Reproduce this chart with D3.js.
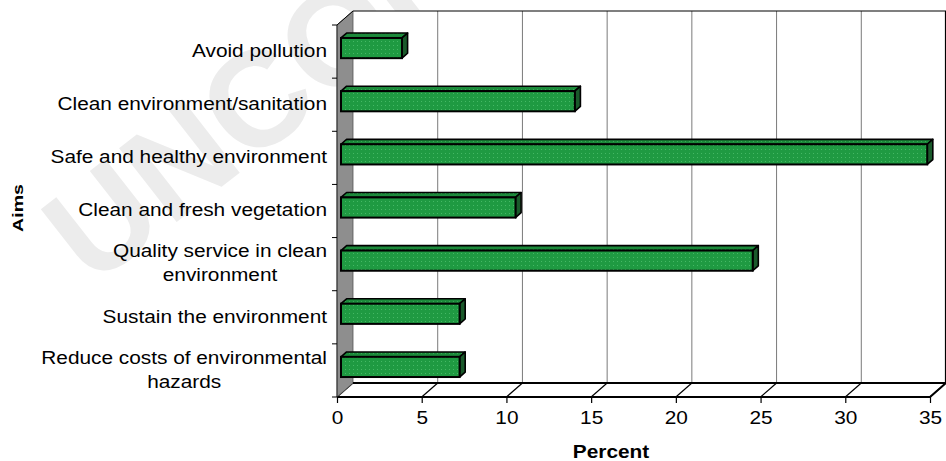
<!DOCTYPE html>
<html>
<head>
<meta charset="utf-8">
<script src="https://cdn.jsdelivr.net/npm/d3@7"></script>
<style>
  html, body { margin: 0; padding: 0; background: #fff; }
  svg { display: block; font-family: "Liberation Sans", Arial, Helvetica, sans-serif; }
</style>
</head>
<body>
<svg id="chart" width="946" height="461"></svg>
<script>
// Aims of respondents, percent
const categories = [
  "Avoid pollution",
  "Clean environment/sanitation",
  "Safe and healthy environment",
  "Clean and fresh vegetation",
  "Quality service in clean environment",
  "Sustain the environment",
  "Reduce costs of environmental hazards"
];
const categoryLines = [
  ["Avoid pollution"],
  ["Clean environment/sanitation"],
  ["Safe and healthy environment"],
  ["Clean and fresh vegetation"],
  ["Quality service in clean", "environment"],
  ["Sustain the environment"],
  ["Reduce costs of environmental", "hazards"]
];
const percentValues = [3.6, 13.8, 34.6, 10.3, 24.3, 7.0, 7.0];
const xTicks = [0, 5, 10, 15, 20, 25, 30, 35];

const svg = d3.select("#chart");

// 3D depth of the plot box
const DX = 16, DY = -14;
// bar sits between these depth fractions
const F1 = 0.25, F2 = 0.6;
const SX = 1.19; // horizontal stretch of the lettering

const x = d3.scaleLinear().domain([0, 35]).range([337, 930]);
const y = d3.scaleBand().domain(categories).range([25, 397]).paddingInner(0).paddingOuter(0);

// faint watermark behind the chart
svg.append("text")
  .attr("transform", "translate(92,288) rotate(-38)")
  .attr("font-size", 136)
  .attr("font-weight", "bold")
  .attr("fill", "#ececec")
  .text("UNCORRECTED");

// patterns for the dotted bar faces
const defs = svg.append("defs");
function dotPattern(id, base, dot) {
  const p = defs.append("pattern").attr("id", id)
    .attr("patternUnits", "userSpaceOnUse").attr("width", 4).attr("height", 4);
  p.append("rect").attr("width", 4).attr("height", 4).attr("fill", base);
  p.append("rect").attr("x", 1).attr("y", 1).attr("width", 1).attr("height", 1).attr("fill", dot);
}
dotPattern("frontDots", "#1f9a42", "#45b865");
dotPattern("topDots", "#1c8a3b", "#3aa857");

const x0 = x(0), x1 = x(35);
const yTop = y.range()[0], yBot = y.range()[1];

// back wall
svg.append("rect")
  .attr("x", x0 + DX).attr("y", yTop + DY)
  .attr("width", x1 - x0).attr("height", yBot - yTop)
  .attr("fill", "#fff");

// floor
svg.append("polygon")
  .attr("points", [[x0, yBot], [x0 + DX, yBot + DY], [x1 + DX, yBot + DY], [x1, yBot]].join(" "))
  .attr("fill", "#fff");

// gridlines on the back wall
svg.append("g").selectAll("line").data(xTicks.filter(d => d > 0 && d < 35)).join("line")
  .attr("x1", d => x(d) + DX).attr("x2", d => x(d) + DX)
  .attr("y1", yTop + DY).attr("y2", yBot + DY)
  .attr("stroke", "#7a7a7a").attr("stroke-width", 1);

// floor diagonals at each tick
svg.append("g").selectAll("line").data(xTicks).join("line")
  .attr("x1", d => x(d)).attr("y1", yBot)
  .attr("x2", d => x(d) + DX).attr("y2", yBot + DY)
  .attr("stroke", "#000").attr("stroke-width", 1.2);

// left side wall
svg.append("polygon")
  .attr("points", [[x0, yTop], [x0 + DX, yTop + DY], [x0 + DX, yBot + DY], [x0, yBot]].join(" "))
  .attr("fill", "#8e8e8e").attr("stroke", "#555").attr("stroke-width", 0.8);

// back wall border
svg.append("path")
  .attr("d", `M${x0 + DX},${yTop + DY}H${x1 + DX - 0.5}V${yBot + DY}`)
  .attr("fill", "none").attr("stroke", "#000").attr("stroke-width", 1.2);
svg.append("line")
  .attr("x1", x0 + DX).attr("x2", x1 + DX).attr("y1", yBot + DY).attr("y2", yBot + DY)
  .attr("stroke", "#000").attr("stroke-width", 2);
svg.append("line")
  .attr("x1", x0).attr("x2", x0 + DX).attr("y1", yTop).attr("y2", yTop + DY)
  .attr("stroke", "#000").attr("stroke-width", 1);

// bars
const bh = y.bandwidth() * 0.38;
const dBx = (F2 - F1) * DX, dBy = (F2 - F1) * DY;
const bars = svg.append("g").selectAll("g").data(categories.map((c, i) => ({ c, v: percentValues[i] }))).join("g");
bars.each(function (d) {
  const g = d3.select(this);
  const L = x(0) + F1 * DX, R = x(d.v) + F1 * DX;
  const T = y(d.c) + (y.bandwidth() - bh) / 2 + F1 * DY, B = T + bh;
  g.append("polygon")
    .attr("points", [[L, T], [L + dBx, T + dBy], [R + dBx, T + dBy], [R, T]].join(" "))
    .attr("fill", "url(#topDots)").attr("stroke", "#000").attr("stroke-width", 1.6).attr("stroke-linejoin", "round");
  g.append("polygon")
    .attr("points", [[R, T], [R + dBx, T + dBy], [R + dBx, B + dBy], [R, B]].join(" "))
    .attr("fill", "#1a5a2b").attr("stroke", "#000").attr("stroke-width", 1.6).attr("stroke-linejoin", "round");
  g.append("rect")
    .attr("x", L).attr("y", T).attr("width", R - L).attr("height", bh)
    .attr("fill", "url(#frontDots)").attr("stroke", "#000").attr("stroke-width", 2);
});

// front floor edge and right floor edge
svg.append("line")
  .attr("x1", x0).attr("x2", x1).attr("y1", yBot).attr("y2", yBot)
  .attr("stroke", "#000").attr("stroke-width", 2);
svg.append("line")
  .attr("x1", x1).attr("y1", yBot).attr("x2", x1 + DX).attr("y2", yBot + DY)
  .attr("stroke", "#000").attr("stroke-width", 2);
svg.append("line")
  .attr("x1", x0).attr("x2", x0).attr("y1", yTop).attr("y2", yBot)
  .attr("stroke", "#333").attr("stroke-width", 1);

// value axis
const xAxis = svg.append("g").attr("transform", `translate(0,${yBot})`)
  .call(d3.axisBottom(x).tickValues(xTicks).tickSize(6).tickFormat(d3.format("d")));
xAxis.select(".domain").remove();
xAxis.selectAll(".tick line").attr("stroke", "#000").attr("stroke-width", 1.2);
xAxis.selectAll(".tick text")
  .attr("font-size", 17.5).attr("fill", "#000").attr("font-family", null)
  .attr("y", 0).attr("dy", null)
  .attr("transform", `translate(0,27) scale(${SX},1)`);

// category ticks on the front edge of the side wall
const bounds = categories.map(c => y(c)).concat([yBot]);
svg.append("g").selectAll("line").data(bounds).join("line")
  .attr("x1", x0 - 5).attr("x2", x0).attr("y1", d => d).attr("y2", d => d)
  .attr("stroke", "#000").attr("stroke-width", 1);

// category labels, wrapped lines centred on each other
const lab = svg.append("g").selectAll("g").data(categories).join("g")
  .attr("transform", c => `translate(327,${y(c) + y.bandwidth() / 2 - 1}) scale(${SX},1)`);
lab.each(function (c, i) {
  const g = d3.select(this);
  const lines = categoryLines[i];
  const lh = 24;
  const t = g.append("text").attr("font-size", 17.5).attr("fill", "#000");
  const first = t.append("tspan").text(lines[0]);
  const w = first.node().getComputedTextLength();
  t.attr("text-anchor", "middle");
  t.selectAll("tspan").remove();
  lines.forEach((ln, k) => {
    t.append("tspan")
      .attr("x", -w / 2)
      .attr("y", 6.3 + (k - (lines.length - 1) / 2) * lh)
      .text(ln);
  });
});

// axis titles
svg.append("text")
  .attr("transform", `translate(611,458) scale(${SX},1)`)
  .attr("text-anchor", "middle").attr("font-size", 17.5).attr("font-weight", "bold")
  .text("Percent");
svg.append("text")
  .attr("transform", "translate(23,208) rotate(-90) scale(1.35,1)")
  .attr("text-anchor", "middle").attr("font-size", 14.5).attr("font-weight", "bold")
  .text("Aims");
</script>
</body>
</html>
